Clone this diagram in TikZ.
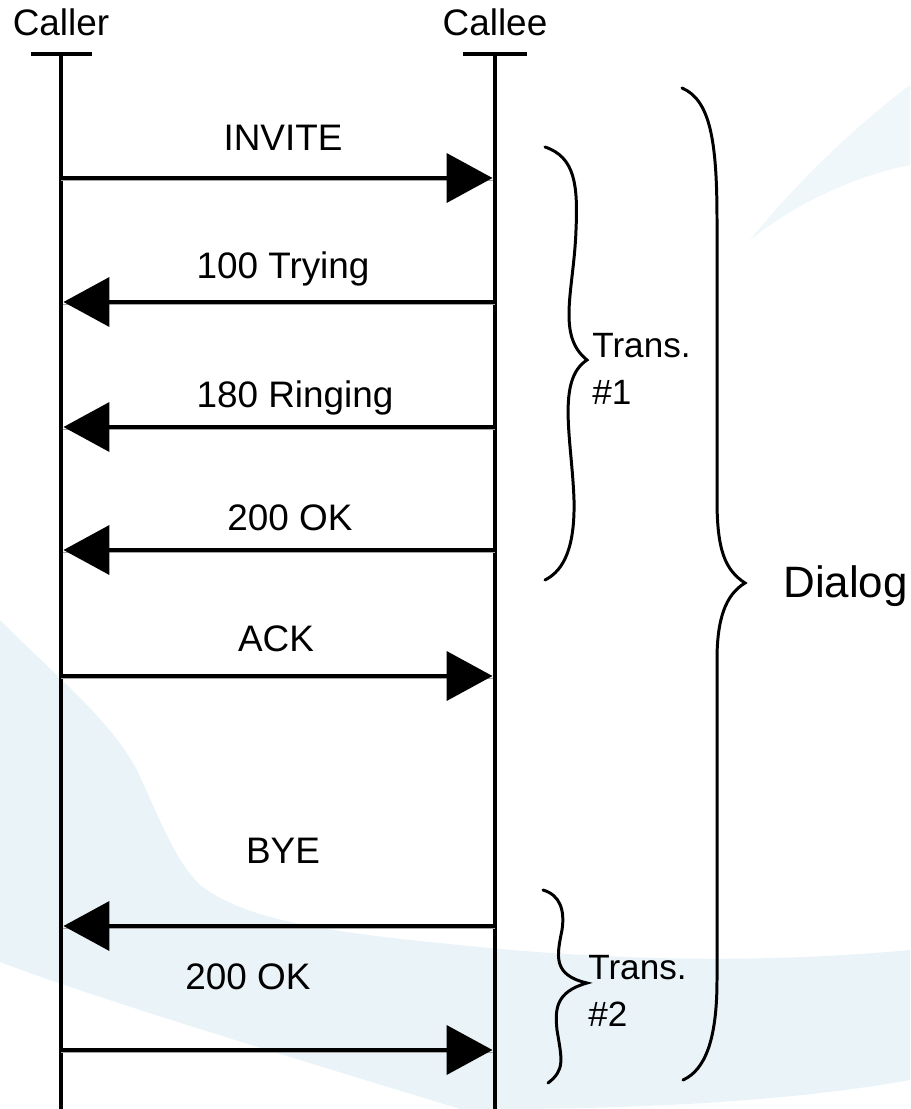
\documentclass[tikz,border=0pt]{standalone}
\usepackage{fontspec}
\setmainfont{Liberation Sans}
\usetikzlibrary{arrows.meta,positioning}

\definecolor{swoosh}{RGB}{234,244,248}
\definecolor{swooshlight}{RGB}{240,247,250}

\begin{document}
\begin{tikzpicture}[
        x=0.02cm, y=-0.02cm,
        actor/.style={font=\fontsize{21}{25}\selectfont, inner sep=0pt, anchor=base},
        msglabel/.style={font=\fontsize{21}{25}\selectfont, inner sep=0pt, anchor=base},
        lifeline/.style={line width=2.7pt},
        msg/.style={line width=2.3pt, -{Triangle[length=0.92cm, width=0.98cm]}, shorten >=1.4pt,
            preaction={draw=black!35, line width=1pt, -, transform canvas={yshift=-1.4pt}}},
        curly/.style={line width=1.7pt, line cap=round},
        translabel/.style={font=\fontsize{20}{27}\selectfont, align=left, anchor=north west, inner sep=0pt},
    ]
    \useasboundingbox (0,0) rectangle (910,1109);

    % faint swoosh in the background
    \fill[swoosh] (0,620) .. controls (60,680) and (110,720) .. (137,770)
        .. controls (160,820) and (175,860) .. (200,885)
        .. controls (240,915) and (300,930) .. (460,945)
        .. controls (650,965) and (800,960) .. (910,950) -- (910,1080)
        .. controls (800,1100) and (650,1109) .. (500,1109) -- (460,1109)
        .. controls (300,1060) and (100,1000) .. (0,962) -- cycle;
    \fill[swooshlight] (750,240) .. controls (800,200) and (860,175) .. (910,165) -- (910,85)
        .. controls (850,130) and (790,190) .. (750,240) -- cycle;

    \node[actor] (caller) at (61,35) {Caller};
    \node[actor] (callee) at (495,35) {Callee};

    \coordinate (callerTop) at (61,54);
    \coordinate (calleeTop) at (495,54);
    \coordinate (callerEnd) at (61,1109);
    \coordinate (calleeEnd) at (495,1109);

    \draw[lifeline] (callerTop) -- (callerEnd);
    \draw[lifeline] (calleeTop) -- (calleeEnd);
    \draw[lifeline] (callerTop) ++(-30,0) -- ++(61,0);
    \draw[lifeline] (calleeTop) ++(-32,0) -- ++(64,0);

    % message ends on both lifelines
    \coordinate (caller1) at (callerTop |- 0,178);  \coordinate (callee1) at (calleeTop |- 0,178);
    \coordinate (caller2) at (callerTop |- 0,302);  \coordinate (callee2) at (calleeTop |- 0,302);
    \coordinate (caller3) at (callerTop |- 0,427);  \coordinate (callee3) at (calleeTop |- 0,427);
    \coordinate (caller4) at (callerTop |- 0,550);  \coordinate (callee4) at (calleeTop |- 0,550);
    \coordinate (caller5) at (callerTop |- 0,676);  \coordinate (callee5) at (calleeTop |- 0,676);
    \coordinate (caller6) at (callerTop |- 0,926);  \coordinate (callee6) at (calleeTop |- 0,926);
    \coordinate (caller7) at (callerTop |- 0,1050); \coordinate (callee7) at (calleeTop |- 0,1050);

    \draw[msg] (caller1) -- (callee1);
    \node[msglabel] (invite) at (283,150) {INVITE};

    \draw[msg] (callee2) -- (caller2);
    \node[msglabel] (trying) at (283,278) {100 Trying};

    \draw[msg] (callee3) -- (caller3);
    \node[msglabel] (ringing) at (295,407) {180 Ringing};

    \draw[msg] (callee4) -- (caller4);
    \node[msglabel] (okA) at (290,530) {200 OK};

    \draw[msg] (caller5) -- (callee5);
    \node[msglabel] (ack) at (276,651) {ACK};

    \draw[msg] (callee6) -- (caller6);
    \node[msglabel] (bye) at (283,863) {BYE};

    \draw[msg] (caller7) -- (callee7);
    \node[msglabel] (okB) at (248,989) {200 OK};

    % braces
    \draw[curly] (545,147) .. controls (575,157) and (578,185) .. (576,230)
        .. controls (574,290) and (556,335) .. (587,360)
        .. controls (556,380) and (572,440) .. (574,500)
        .. controls (575,545) and (565,570) .. (545,580);
    \node[translabel] (trans1) at (592,333) {Trans.\\\#1};

    \draw[curly] (543,890) .. controls (560,895) and (565,910) .. (562,930)
        .. controls (557,955) and (552,975) .. (587,983)
        .. controls (555,992) and (555,1010) .. (557,1030)
        .. controls (562,1060) and (565,1070) .. (548,1083);
    \node[translabel] (trans2) at (588,955) {Trans.\\\#2};

    \draw[curly] (682,88) .. controls (710,100) and (717,140) .. (717,220) -- (717,500)
        .. controls (717,550) and (725,570) .. (745,583)
        .. controls (725,595) and (717,620) .. (717,660) -- (717,980)
        .. controls (717,1040) and (705,1070) .. (683,1080);
    \node[font=\fontsize{25}{30}\selectfont, inner sep=0pt, anchor=base west] (dialog) at (783,597) {Dialog};

\end{tikzpicture}
\end{document}
